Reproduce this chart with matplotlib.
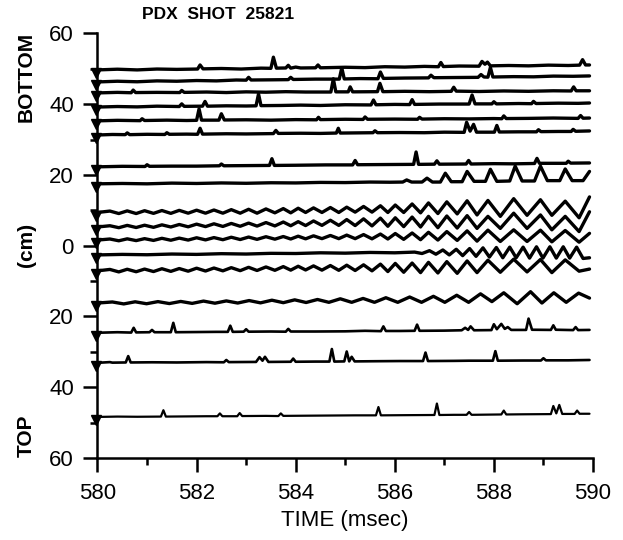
import matplotlib
matplotlib.use('Agg')
import matplotlib.pyplot as plt

# PDX shot 25821 - traces (time ms, position cm; top = bottom of plasma)
trace_01 = [(580.0, 49.7), (580.4, 49.9), (580.8, 49.7), (581.2, 49.95), (581.6, 49.85), (582.02, 49.95), (582.07, 51.1),
            (582.13, 50.0), (582.5, 50.1), (582.9, 49.95), (583.3, 50.2), (583.5, 50.15), (583.55, 53.3), (583.61, 50.2),
            (583.8, 50.25), (583.85, 51.0), (583.9, 50.2), (584.0, 50.5), (584.1, 50.25), (584.4, 50.3), (584.45, 51.1),
            (584.5, 50.3), (585.0, 50.45), (585.4, 50.35), (585.8, 50.6), (586.2, 50.5), (586.6, 50.7), (586.88, 50.6),
            (586.93, 51.8), (586.98, 50.65), (587.3, 50.8), (587.7, 50.75), (587.76, 52.1), (587.82, 51.3), (587.87, 51.9),
            (587.93, 50.85), (588.3, 50.95), (588.7, 50.85), (589.1, 51.05), (589.5, 50.95), (589.73, 51.05),
            (589.79, 52.6), (589.85, 51.1), (589.93, 51.1)]
trace_02 = [(580.0, 46.3), (580.4, 46.5), (580.8, 46.35), (581.2, 46.6), (581.6, 46.5), (582.0, 46.7), (582.4, 46.6),
            (582.8, 46.85), (583.0, 46.8), (583.05, 47.6), (583.1, 46.85), (583.5, 46.9), (583.85, 46.95), (583.9, 47.6),
            (583.95, 47.0), (584.4, 47.1), (584.88, 47.1), (584.93, 50.3), (584.98, 47.15), (585.3, 47.25), (585.66, 47.2),
            (585.71, 49.1), (585.77, 47.3), (586.2, 47.4), (586.68, 47.45), (586.73, 48.2), (586.79, 47.5), (587.2, 47.55),
            (587.68, 47.6), (587.74, 48.4), (587.8, 47.7), (587.88, 47.65), (587.93, 50.4), (587.98, 47.7), (588.4, 47.8),
            (588.8, 47.75), (589.2, 47.95), (589.6, 47.9), (589.93, 48.0)]
trace_03 = [(580.0, 43.2), (580.4, 43.35), (580.68, 43.25), (580.72, 44.0), (580.77, 43.3), (581.2, 43.35), (581.66, 43.3),
            (581.7, 43.9), (581.75, 43.35), (582.2, 43.45), (582.6, 43.3), (583.0, 43.5), (583.4, 43.4), (583.8, 43.55),
            (584.2, 43.45), (584.71, 43.45), (584.76, 47.2), (584.81, 43.5), (585.06, 43.5), (585.1, 44.9), (585.15, 43.5),
            (585.65, 43.55), (585.7, 45.9), (585.76, 43.55), (586.2, 43.65), (586.7, 43.55), (587.14, 43.65),
            (587.19, 44.8), (587.24, 43.7), (587.7, 43.6), (588.2, 43.75), (588.7, 43.65), (589.2, 43.8), (589.56, 43.75),
            (589.61, 44.9), (589.66, 43.8), (589.93, 43.8)]
trace_04 = [(580.0, 39.2), (580.4, 39.35), (580.8, 39.25), (581.2, 39.45), (581.65, 39.35), (581.7, 40.1), (581.75, 39.4),
            (582.12, 39.45), (582.17, 40.8), (582.22, 39.45), (582.6, 39.55), (583.0, 39.5), (583.2, 39.55),
            (583.25, 42.9), (583.3, 39.6), (583.7, 39.65), (584.1, 39.75), (584.5, 39.65), (585.0, 39.85), (585.52, 39.8),
            (585.57, 41.2), (585.62, 39.85), (586.0, 39.95), (586.3, 39.9), (586.35, 41.3), (586.4, 39.95), (586.9, 40.05),
            (587.5, 40.05), (587.56, 42.6), (587.62, 40.1), (587.96, 40.1), (588.0, 40.7), (588.05, 40.1), (588.5, 40.2),
            (588.76, 40.15), (588.8, 40.8), (588.85, 40.2), (589.3, 40.3), (589.7, 40.25), (589.93, 40.35)]
trace_05 = [(580.0, 35.3), (580.4, 35.45), (580.86, 35.35), (580.9, 35.9), (580.95, 35.4), (581.4, 35.5), (581.8, 35.4),
            (582.0, 35.45), (582.05, 38.7), (582.1, 35.5), (582.45, 35.5), (582.5, 37.3), (582.56, 35.55), (583.0, 35.6),
            (583.5, 35.5), (584.0, 35.65), (584.42, 35.6), (584.46, 36.3), (584.5, 35.65), (585.0, 35.75), (585.36, 35.7),
            (585.4, 36.4), (585.45, 35.75), (586.0, 35.8), (586.46, 35.75), (586.5, 36.3), (586.55, 35.8), (587.0, 35.9),
            (587.5, 35.85), (588.0, 35.95), (588.16, 35.9), (588.2, 36.7), (588.25, 35.95), (588.7, 36.0), (589.2, 36.1),
            (589.7, 36.0), (589.75, 36.8), (589.8, 36.05), (589.93, 36.1)]
trace_06 = [(580.0, 31.3), (580.3, 31.45), (580.56, 31.4), (580.6, 31.9), (580.65, 31.4), (581.0, 31.5), (581.36, 31.45),
            (581.4, 31.95), (581.45, 31.5), (581.8, 31.55), (582.02, 31.5), (582.07, 33.2), (582.12, 31.55), (582.6, 31.65),
            (583.0, 31.6), (583.55, 31.7), (583.6, 32.6), (583.65, 31.75), (584.1, 31.8), (584.5, 31.75), (584.82, 31.85),
            (584.86, 33.2), (584.9, 31.85), (585.56, 31.95), (585.6, 32.5), (585.65, 31.95), (586.1, 32.0), (586.6, 31.95),
            (587.0, 32.1), (587.4, 32.05), (587.45, 34.9), (587.52, 32.4), (587.59, 34.3), (587.65, 32.1), (588.01, 32.1),
            (588.06, 34.0), (588.11, 32.15), (588.5, 32.2), (588.86, 32.2), (588.9, 32.8), (588.95, 32.25), (589.3, 32.3),
            (589.56, 32.3), (589.6, 32.9), (589.65, 32.35), (589.93, 32.45)]
trace_07 = [(580.0, 22.3), (580.5, 22.45), (580.96, 22.4), (581.0, 22.9), (581.05, 22.45), (581.5, 22.5), (582.0, 22.5),
            (582.46, 22.6), (582.5, 23.1), (582.55, 22.6), (583.0, 22.65), (583.47, 22.7), (583.52, 24.6), (583.57, 22.7),
            (584.0, 22.75), (584.6, 22.85), (585.15, 22.85), (585.2, 24.1), (585.25, 22.9), (585.8, 22.95), (586.38, 23.0),
            (586.43, 26.5), (586.48, 23.0), (586.8, 23.05), (586.85, 24.0), (586.9, 23.05), (587.44, 23.1), (587.49, 24.1),
            (587.54, 23.1), (588.0, 23.2), (588.4, 23.15), (588.82, 23.25), (588.87, 24.7), (588.92, 23.3), (589.46, 23.3),
            (589.5, 23.9), (589.55, 23.35), (589.93, 23.4)]
trace_08 = [(580.0, 17.5), (580.5, 17.6), (581.0, 17.5), (581.5, 17.7), (582.0, 17.6), (582.5, 17.75), (583.0, 17.65),
            (583.5, 17.8), (584.0, 17.75), (584.5, 17.9), (585.0, 17.85), (585.5, 18.0), (585.9, 17.95), (586.16, 18.0),
            (586.24, 18.6), (586.34, 18.0), (586.55, 18.0), (586.65, 19.1), (586.76, 18.0), (586.92, 18.0), (587.02, 20.5),
            (587.14, 18.1), (587.36, 18.1), (587.46, 21.0), (587.6, 18.2), (587.83, 18.2), (587.93, 21.6), (588.06, 18.2),
            (588.32, 18.3), (588.43, 22.5), (588.57, 18.3), (588.82, 18.3), (588.94, 22.5), (589.08, 18.4),
            (589.33, 18.4), (589.44, 21.7), (589.58, 18.4), (589.8, 18.4), (589.93, 21.0)]
trace_09 = [(580.0, 9.4), (580.25, 9.8), (580.43, 9.1), (580.6, 9.85), (580.78, 9.1), (580.95, 9.9), (581.13, 9.15),
            (581.3, 9.95), (581.48, 9.15), (581.65, 10.0), (581.83, 9.2), (582.0, 10.05), (582.18, 9.2), (582.35, 10.1),
            (582.53, 9.2), (582.7, 10.2), (582.88, 9.2), (583.05, 10.3), (583.22, 9.2), (583.4, 10.4), (583.58, 9.3),
            (583.75, 10.5), (583.9, 9.3), (584.05, 10.6), (584.2, 9.4), (584.36, 10.7), (584.53, 9.4), (584.7, 10.8),
            (584.87, 9.4), (585.03, 10.9), (585.2, 9.5), (585.37, 11.1), (585.54, 9.5), (585.71, 11.3), (585.86, 9.4),
            (586.01, 11.5), (586.18, 9.4), (586.35, 11.8), (586.52, 9.3), (586.68, 12.1), (586.87, 9.1), (587.05, 12.4),
            (587.26, 9.0), (587.46, 12.7), (587.66, 8.7), (587.88, 12.8), (588.13, 8.3), (588.4, 13.3), (588.67, 8.6),
            (588.94, 13.0), (589.17, 8.6), (589.44, 12.6), (589.72, 7.9), (589.93, 13.8)]
trace_10 = [(580.0, 5.3), (580.25, 5.65), (580.43, 5.1), (580.6, 5.75), (580.78, 5.15), (580.95, 5.8), (581.13, 5.2),
            (581.3, 5.9), (581.48, 5.3), (581.65, 6.0), (581.83, 5.35), (582.0, 6.1), (582.18, 5.4), (582.35, 6.2),
            (582.53, 5.45), (582.7, 6.3), (582.88, 5.5), (583.05, 6.4), (583.22, 5.55), (583.4, 6.55), (583.58, 5.6),
            (583.75, 6.7), (583.9, 5.65), (584.05, 6.8), (584.2, 5.7), (584.36, 7.0), (584.53, 5.75), (584.7, 7.2),
            (584.87, 5.75), (585.03, 7.4), (585.2, 5.7), (585.37, 7.6), (585.54, 5.6), (585.71, 7.8), (585.86, 5.5),
            (586.01, 7.9), (586.18, 5.4), (586.35, 8.1), (586.52, 5.3), (586.68, 8.3), (586.87, 5.1), (587.05, 8.4),
            (587.26, 5.0), (587.46, 8.5), (587.66, 4.9), (587.88, 8.3), (588.13, 4.9), (588.4, 9.2), (588.67, 4.9),
            (588.94, 8.7), (589.17, 4.5), (589.44, 8.3), (589.72, 4.0), (589.93, 9.6)]
trace_11 = [(580.0, 1.6), (580.25, 1.9), (580.43, 1.4), (580.6, 1.95), (580.78, 1.45), (580.95, 2.0), (581.13, 1.5),
            (581.3, 2.1), (581.48, 1.55), (581.65, 2.15), (581.83, 1.6), (582.0, 2.25), (582.18, 1.65), (582.35, 2.3),
            (582.53, 1.7), (582.7, 2.4), (582.88, 1.75), (583.05, 2.45), (583.22, 1.8), (583.4, 2.55), (583.58, 1.85),
            (583.75, 2.6), (583.9, 1.9), (584.05, 2.7), (584.2, 1.95), (584.36, 2.8), (584.53, 2.0), (584.7, 2.9),
            (584.87, 2.0), (585.03, 3.0), (585.2, 2.0), (585.37, 3.15), (585.54, 1.95), (585.71, 3.3), (585.86, 1.9),
            (586.01, 3.45), (586.18, 1.8), (586.35, 3.6), (586.52, 1.7), (586.68, 3.8), (586.87, 1.6), (587.05, 4.0),
            (587.26, 1.5), (587.46, 4.2), (587.66, 1.3), (587.88, 4.4), (588.13, 1.2), (588.4, 4.5), (588.67, 1.2),
            (588.94, 4.4), (589.17, 1.1), (589.44, 4.3), (589.72, 1.0), (589.93, 3.5)]
trace_12 = [(580.0, -2.6), (580.5, -2.45), (581.0, -2.55), (581.5, -2.35), (582.0, -2.45), (582.5, -2.25), (583.0, -2.35),
            (583.5, -2.15), (584.0, -2.2), (584.5, -2.0), (585.0, -2.1), (585.5, -1.9), (586.0, -2.0), (586.4, -1.8),
            (586.55, -2.2), (586.7, -1.4), (586.83, -2.4), (586.97, -1.2), (587.1, -2.6), (587.24, -1.0), (587.37, -2.8),
            (587.51, -0.8), (587.64, -3.0), (587.78, -0.6), (587.91, -3.2), (588.05, -0.5), (588.18, -3.4),
            (588.32, -0.4), (588.45, -3.4), (588.59, -0.4), (588.72, -3.5), (588.86, -0.3), (588.99, -3.5),
            (589.13, -0.3), (589.26, -3.5), (589.4, -0.3), (589.53, -3.5), (589.67, -0.4), (589.8, -3.6), (589.93, -3.4)]
trace_13 = [(580.0, -7.1), (580.25, -6.7), (580.43, -7.4), (580.6, -6.65), (580.78, -7.35), (580.95, -6.6),
            (581.13, -7.3), (581.3, -6.5), (581.48, -7.25), (581.65, -6.45), (581.83, -7.2), (582.0, -6.35),
            (582.18, -7.15), (582.35, -6.3), (582.53, -7.1), (582.7, -6.2), (582.88, -7.05), (583.05, -6.1),
            (583.22, -7.0), (583.4, -6.0), (583.58, -6.95), (583.75, -5.9), (583.9, -6.9), (584.05, -5.8), (584.2, -6.85),
            (584.36, -5.7), (584.53, -6.9), (584.7, -5.6), (584.87, -6.95), (585.03, -5.5), (585.2, -7.0), (585.37, -5.4),
            (585.54, -7.1), (585.71, -5.2), (585.86, -7.3), (586.01, -5.0), (586.18, -7.5), (586.35, -4.9),
            (586.52, -7.6), (586.68, -4.7), (586.87, -7.7), (587.05, -4.5), (587.26, -7.8), (587.46, -4.3),
            (587.66, -7.6), (587.88, -4.1), (588.13, -7.5), (588.4, -3.8), (588.67, -7.4), (588.94, -3.9),
            (589.17, -7.6), (589.44, -4.0), (589.72, -7.2), (589.93, -6.6)]
trace_14 = [(580.0, -16.2), (580.3, -15.9), (580.53, -16.45), (580.76, -15.85), (580.99, -16.4), (581.22, -15.8),
            (581.45, -16.35), (581.68, -15.75), (581.91, -16.3), (582.14, -15.65), (582.37, -16.25), (582.6, -15.6),
            (582.83, -16.2), (583.06, -15.5), (583.29, -16.15), (583.52, -15.4), (583.75, -16.1), (583.98, -15.3),
            (584.21, -16.05), (584.44, -15.2), (584.67, -16.0), (584.9, -15.0), (585.13, -16.0), (585.36, -14.9),
            (585.59, -16.0), (585.82, -14.7), (586.06, -16.0), (586.3, -14.5), (586.54, -16.0), (586.78, -14.3),
            (587.01, -16.0), (587.25, -14.0), (587.49, -16.0), (587.73, -13.6), (587.96, -15.8), (588.2, -13.3),
            (588.47, -16.4), (588.74, -13.0), (588.97, -16.2), (589.21, -13.3), (589.46, -16.0), (589.71, -13.4),
            (589.93, -14.8)]
trace_15 = [(580.0, -24.6), (580.4, -24.45), (580.68, -24.55), (580.73, -23.2), (580.78, -24.5), (581.05, -24.45),
            (581.1, -23.8), (581.15, -24.45), (581.48, -24.45), (581.53, -21.8), (581.58, -24.45), (582.0, -24.4),
            (582.4, -24.35), (582.63, -24.35), (582.68, -22.6), (582.73, -24.35), (582.95, -24.3), (583.0, -23.6),
            (583.05, -24.3), (583.5, -24.25), (583.8, -24.3), (583.85, -23.5), (583.9, -24.25), (584.4, -24.25),
            (585.0, -24.2), (585.4, -24.05), (585.72, -24.15), (585.77, -22.8), (585.82, -24.1), (586.1, -24.1),
            (586.4, -24.05), (586.45, -22.3), (586.5, -24.05), (587.0, -24.0), (587.35, -23.9), (587.42, -23.2),
            (587.48, -23.8), (587.53, -22.8), (587.6, -23.9), (587.95, -23.85), (588.0, -22.2), (588.06, -23.6),
            (588.15, -22.1), (588.22, -23.5), (588.28, -23.0), (588.35, -23.8), (588.65, -23.8), (588.7, -20.6),
            (588.77, -23.75), (589.15, -23.8), (589.2, -22.5), (589.25, -23.75), (589.6, -23.85), (589.65, -23.0),
            (589.7, -23.85), (589.93, -23.8)]
trace_16 = [(580.0, -33.1), (580.25, -32.9), (580.3, -33.05), (580.57, -33.0), (580.62, -31.2), (580.67, -33.0),
            (581.1, -32.95), (581.6, -33.0), (582.2, -32.9), (582.55, -32.95), (582.6, -32.3), (582.65, -32.9),
            (583.2, -32.85), (583.27, -31.5), (583.33, -32.5), (583.38, -31.4), (583.45, -32.85), (583.9, -32.8),
            (583.95, -31.9), (584.0, -32.8), (584.4, -32.75), (584.68, -32.75), (584.73, -29.2), (584.78, -32.75),
            (584.98, -32.7), (585.03, -29.9), (585.08, -32.7), (585.13, -31.4), (585.19, -32.7), (585.6, -32.65),
            (586.1, -32.6), (586.57, -32.6), (586.62, -30.2), (586.67, -32.6), (587.2, -32.55), (587.5, -32.5),
            (587.98, -32.5), (588.03, -29.8), (588.08, -32.5), (588.6, -32.45), (588.95, -32.45), (589.0, -31.8),
            (589.05, -32.4), (589.5, -32.4), (589.93, -32.3)]
trace_17 = [(580.0, -48.4), (580.4, -48.3), (580.8, -48.35), (581.28, -48.3), (581.33, -46.5), (581.38, -48.3),
            (581.8, -48.25), (582.2, -48.2), (582.42, -48.2), (582.47, -47.4), (582.52, -48.2), (582.82, -48.2),
            (582.87, -47.3), (582.92, -48.15), (583.4, -48.1), (583.65, -48.15), (583.7, -47.4), (583.75, -48.1),
            (584.2, -48.05), (584.7, -48.0), (585.2, -47.95), (585.62, -47.95), (585.67, -45.6), (585.72, -47.95),
            (586.2, -47.9), (586.8, -47.85), (586.85, -44.6), (586.9, -47.85), (587.2, -47.8), (587.45, -47.8),
            (587.5, -47.0), (587.55, -47.8), (588.15, -47.7), (588.2, -46.6), (588.25, -47.7), (588.6, -47.65),
            (589.15, -47.6), (589.2, -45.3), (589.26, -47.4), (589.32, -45.0), (589.38, -47.55), (589.63, -47.55),
            (589.68, -46.6), (589.73, -47.5), (589.93, -47.5)]

traces = [trace_01, trace_02, trace_03, trace_04, trace_05, trace_06, trace_07, trace_08, trace_09,
          trace_10, trace_11, trace_12, trace_13, trace_14, trace_15, trace_16, trace_17]

xticks = [580, 582, 584, 586, 588, 590]
yticks = [60, 40, 20, 0, -20, -40, -60]
ytick_labels = ['60', '40', '20', '0', '20', '40', '60']

plt.rcParams['font.family'] = ['Liberation Sans', 'DejaVu Sans']

fig = plt.figure(figsize=(6.23, 5.40), dpi=100)
ax = fig.add_axes([0.1565, 0.1519, 0.7953, 0.7861])

for i, tr in enumerate(traces):
    t = [p[0] for p in tr]
    v = [p[1] for p in tr]
    lw = 2.4 if i < 14 else (1.9 if i < 16 else 1.6)
    ax.plot(t, v, color='black', lw=lw, solid_joinstyle='round', solid_capstyle='round')
    ax.plot(579.97, v[0] - 0.9, marker='v', ms=7, color='black', clip_on=False)

ax.set_xlim(580, 590)
ax.set_ylim(-60, 60)
ax.spines['top'].set_visible(False)
ax.spines['right'].set_visible(False)
ax.spines['left'].set_linewidth(1.8)
ax.spines['bottom'].set_linewidth(1.8)

ax.set_xticks(xticks)
ax.set_xticks([581, 583, 585, 587, 589], minor=True)
ax.set_yticks(yticks)
ax.set_yticklabels(ytick_labels)
ax.set_yticks([50, 30, 10, -10, -30, -50], minor=True)
ax.tick_params(which='major', direction='out', length=10, width=1.8, labelsize=16)
ax.tick_params(which='minor', direction='out', length=5, width=1.8)
ax.tick_params(axis='x', which='major', pad=8)
ax.tick_params(axis='y', which='major', pad=7)

ax.set_xlabel('TIME (msec)', fontsize=16, labelpad=4)
fig.text(0.228, 0.973, 'PDX  SHOT  25821', fontsize=12.5, fontweight='bold', ha='left', va='center')
fig.text(0.042, 0.857, 'BOTTOM', fontsize=15, fontweight='bold', rotation=90, ha='center', va='center')
fig.text(0.042, 0.546, '(cm)', fontsize=15, fontweight='bold', rotation=90, ha='center', va='center')
fig.text(0.042, 0.193, 'TOP', fontsize=15, fontweight='bold', rotation=90, ha='center', va='center')

fig.savefig('out.png', dpi=100)
